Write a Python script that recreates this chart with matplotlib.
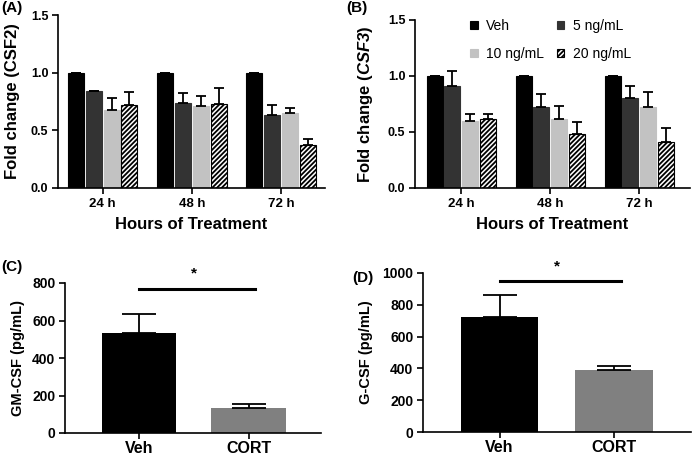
import matplotlib
matplotlib.use("Agg")
import matplotlib.pyplot as plt
import numpy as np

plt.rcParams['font.family'] = ['Liberation Sans', 'DejaVu Sans']
plt.rcParams['hatch.linewidth'] = 1.3
plt.rcParams['mathtext.fontset'] = 'custom'
plt.rcParams['mathtext.bfit'] = 'Liberation Sans:italic:bold'
plt.rcParams['mathtext.it'] = 'Liberation Sans:italic'
plt.rcParams['mathtext.bf'] = 'Liberation Sans:bold'
plt.rcParams['mathtext.rm'] = 'Liberation Sans'

groups = ['24 h', '48 h', '72 h']
series = ['Veh', '5 ng/mL', '10 ng/mL', '20 ng/mL']

csf2_mean = {
    'Veh': [1.0, 1.0, 1.0],
    '5 ng/mL': [0.84, 0.74, 0.63],
    '10 ng/mL': [0.68, 0.71, 0.65],
    '20 ng/mL': [0.72, 0.73, 0.37],
}
csf2_err = {
    'Veh': [0.0, 0.0, 0.0],
    '5 ng/mL': [0.005, 0.085, 0.09],
    '10 ng/mL': [0.10, 0.09, 0.045],
    '20 ng/mL': [0.115, 0.14, 0.055],
}
csf3_mean = {
    'Veh': [1.0, 1.0, 1.0],
    '5 ng/mL': [0.91, 0.72, 0.80],
    '10 ng/mL': [0.60, 0.62, 0.72],
    '20 ng/mL': [0.62, 0.48, 0.41],
}
csf3_err = {
    'Veh': [0.0, 0.0, 0.0],
    '5 ng/mL': [0.135, 0.115, 0.11],
    '10 ng/mL': [0.057, 0.115, 0.135],
    '20 ng/mL': [0.045, 0.11, 0.13],
}

elisa_groups = ['Veh', 'CORT']
gmcsf_mean = [535, 135]
gmcsf_err = [100, 18]
gcsf_mean = [725, 388]
gcsf_err = [135, 25]

colors = {'Veh': '#000000', '5 ng/mL': '#333333', '10 ng/mL': '#c2c2c2', '20 ng/mL': 'white'}
hatches = {'Veh': None, '5 ng/mL': None, '10 ng/mL': None, '20 ng/mL': '///////'}

W, H = 692, 455
fig = plt.figure(figsize=(W / 100, H / 100), dpi=100)


def ax_px(l, r, t, b):
    return fig.add_axes([l / W, 1 - b / H, (r - l) / W, (b - t) / H])


def style(ax, yfs=9, xfs=9.5):
    for s in ['top', 'right']:
        ax.spines[s].set_visible(False)
    for s in ['left', 'bottom']:
        ax.spines[s].set_linewidth(1.2)
    ax.tick_params(axis='both', direction='out', width=1.2, length=4)
    ax.tick_params(axis='y', labelsize=yfs, pad=3)
    ax.tick_params(axis='x', labelsize=xfs, pad=3)
    for lab in ax.get_xticklabels() + ax.get_yticklabels():
        lab.set_fontweight('bold')


def grouped(ax, mean, err, ylabel, xlim, legend=False, ylpad=6):
    x = np.arange(len(groups))
    offs = [-0.3, -0.1, 0.1, 0.3]
    handles = {}
    for s, o in zip(series, offs):
        ec = 'black' if s == '20 ng/mL' else colors[s]
        b = ax.bar(x + o, mean[s], width=0.18, color=colors[s], edgecolor=ec,
                   hatch=hatches[s], linewidth=0.8, label=s,
                   yerr=[np.zeros(3), err[s]],
                   error_kw=dict(ecolor='black', elinewidth=1.3, capsize=3.5, capthick=1.3))
        handles[s] = b
    ax.set_ylim(0, 1.5)
    ax.set_xlim(*xlim)
    ax.set_yticks([0.0, 0.5, 1.0, 1.5])
    ax.set_yticklabels(['0.0', '0.5', '1.0', '1.5'])
    ax.set_xticks(x)
    ax.set_xticklabels(groups)
    ax.set_xlabel('Hours of Treatment', fontsize=12, fontweight='bold', labelpad=5)
    ax.set_ylabel(ylabel, fontsize=12, fontweight='bold', labelpad=ylpad)
    style(ax, 9, 9.5)
    if legend:
        order = ['Veh', '10 ng/mL', '5 ng/mL', '20 ng/mL']
        ax.legend([handles[k] for k in order], order, ncol=2, loc='upper left',
                  bbox_to_anchor=(0.155, 1.08), frameon=False,
                  fontsize=10, handlelength=0.55, handleheight=0.55, handletextpad=0.6,
                  columnspacing=0.9, labelspacing=1.0)


axA = ax_px(58, 325, 15, 188)
grouped(axA, csf2_mean, csf2_err, 'Fold change (CSF2)', (-0.5, 2.49), ylpad=8)
axB = ax_px(415, 690, 20, 188)
grouped(axB, csf3_mean, csf3_err, 'Fold change ($\\mathbfit{CSF3}$)', (-0.52, 2.57),
        legend=True, ylpad=9)


def elisa(ax, mean, err, ylabel, ymax, yticks, xlim, sig_y, star_y, ylpad):
    x = np.arange(2)
    ax.bar(x, mean, width=0.68, color=['#000000', '#808080'],
           yerr=[np.zeros(2), err],
           error_kw=dict(ecolor='black', elinewidth=1.3, capsize=12.5, capthick=1.3))
    ax.set_ylim(0, ymax)
    ax.set_xlim(*xlim)
    ax.set_yticks(yticks)
    ax.set_xticks(x)
    ax.set_xticklabels(elisa_groups)
    ax.set_ylabel(ylabel, fontsize=10.5, fontweight='bold', labelpad=ylpad)
    style(ax, 10, 11.5)
    ax.tick_params(axis='x', pad=1.5)
    ax.plot([0, 1 + 0.06], [sig_y, sig_y], color='black', lw=2.2, clip_on=False)
    ax.text(0.5, star_y, '*', ha='center', va='center', fontsize=11, fontweight='bold')


axC = ax_px(65, 321, 283, 433)
elisa(axC, gmcsf_mean, gmcsf_err, 'GM-CSF (pg/mL)', 800, [0, 200, 400, 600, 800],
      (-0.676, 1.662), 770, 850, 5)
axD = ax_px(423, 691, 273, 432)
elisa(axD, gcsf_mean, gcsf_err, 'G-CSF (pg/mL)', 1000, [0, 200, 400, 600, 800, 1000],
      (-0.668, 1.672), 950, 1040, 7)

for lbl, (px, py) in zip(['(A)', '(B)', '(C)', '(D)'],
                         [(1, 1), (346, 1), (1, 260), (352, 271)]):
    fig.text(px / W, 1 - py / H, lbl, fontsize=11, fontweight='bold', va='top', ha='left')

fig.savefig('out.png', dpi=100)
